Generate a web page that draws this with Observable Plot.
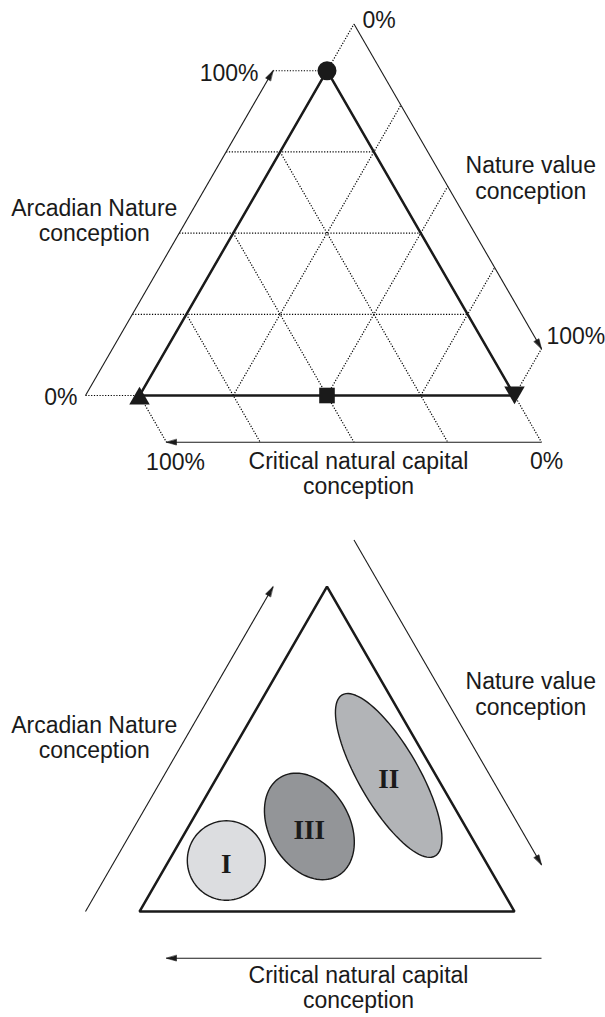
<!DOCTYPE html>
<html>
<head>
<meta charset="utf-8">
<script src="https://cdn.jsdelivr.net/npm/d3@7"></script>
<script src="https://cdn.jsdelivr.net/npm/@observablehq/plot@0.6"></script>
<style>
  html, body { margin: 0; padding: 0; background: #ffffff; }
  #top, #bottom { width: 605px; }
  svg { display: block; }
</style>
</head>
<body>
<div id="top"></div>
<div id="bottom"></div>
<script>
// ---------------- data ----------------
const axisKeys = ["A", "N", "C"];
const axisNames = ["Arcadian Nature\nconception", "Nature value\nconception", "Critical natural capital\nconception"];
const tickLabels = ["0%", "100%"];            // start / arrow end of every axis
const gridLevels = [0, 25, 50, 75, 100];      // percent

// marked compositions in the upper diagram (A = Arcadian, N = Nature value, C = Critical natural capital)
const pointLabels = ["Arcadian Nature", "Nature value", "Critical natural capital", "Nature value + Critical natural capital"];
const pointA = [100, 0, 0, 0];
const pointN = [0, 100, 0, 50];
const pointC = [0, 0, 100, 50];

// groups in the lower diagram (centre composition in %, extent in % of side)
const groups = ["I", "II", "III"];
const groupA = [15.7, 41.9, 26.2];
const groupN = [15.3, 45.5, 32.2];
const groupC = [69.0, 12.6, 41.6];
const groupMajor = [10.6, 24.8, 15.2];
const groupMinor = [10.4, 8.0, 10.7];
const groupTilt = [0, 30, 30];

// ---------------- styles ----------------
const groupColors = ["#dcdde0", "#b2b4b7", "#939598"];
const SANS = "Liberation Sans, Arial, Helvetica, sans-serif";
const SERIF = "Liberation Serif, Times New Roman, serif";
const FS = 23;
const INK = "#1a1a1a";
const shapeStyle = {
  "Arcadian Nature": {symbol: "circle", r: 9.5, rotate: 0, dy: 0},
  "Nature value": {symbol: "triangle", r: 7.6, rotate: 180, dy: -3},
  "Critical natural capital": {symbol: "triangle", r: 7.6, rotate: 0, dy: 3},
  "Nature value + Critical natural capital": {symbol: "square", r: 8.8, rotate: 0, dy: 0}
};

// ---------------- ternary geometry ----------------
const H = Math.sqrt(3) / 2;
const tx = (a, n, c) => (n + a / 2) / (a + n + c);
const ty = (a, n, c) => (a * H) / (a + n + c);
const OFF = 54 / 375;                       // axis offset, in side units
const vert = {A: [0.5, H], N: [1, 0], C: [0, 0]};
const offDir = {A: [-1, 0], N: [0.5, H], C: [0.5, -H]};
const axisEnds = {A: ["C", "A"], N: ["A", "N"], C: ["N", "C"]};

const axes = axisKeys.map((k, i) => {
  const [s, e] = axisEnds[k];
  const o = offDir[k];
  return {
    key: k, name: axisNames[i],
    x1: vert[s][0] + OFF * o[0], y1: vert[s][1] + OFF * o[1],
    x2: vert[e][0] + OFF * o[0], y2: vert[e][1] + OFF * o[1]
  };
});

function arrowHead(ax) {
  const L = 10 / 375, W = 2.8 / 375;
  const dx = ax.x2 - ax.x1, dy = ax.y2 - ax.y1, len = Math.hypot(dx, dy);
  const ux = dx / len, uy = dy / len;
  const bx = ax.x2 - ux * L, by = ax.y2 - uy * L;
  return [
    {id: ax.key, x: ax.x2, y: ax.y2},
    {id: ax.key, x: bx - uy * W, y: by + ux * W},
    {id: ax.key, x: bx + uy * W, y: by - ux * W}
  ];
}
const heads = axes.flatMap(arrowHead);

// grid lines (upper diagram only)
const gridLines = gridLevels.flatMap(v => {
  const p = v / 100;
  return [
    {fam: "A", x1: p / 2 - OFF, y1: p * H, x2: 1 - p / 2, y2: p * H},
    {fam: "N", x1: p, y1: 0, x2: (1 + p) / 2 + OFF * 0.5, y2: (1 - p) * H + OFF * H},
    {fam: "C", x1: (1 - p) / 2, y1: (1 - p) * H, x2: 1 - p + OFF * 0.5, y2: -OFF * H}
  ];
});

const triangle = ["C", "A", "N"].map(k => ({x: vert[k][0], y: vert[k][1]}));

const points = pointLabels.map((label, i) => ({label, a: pointA[i], n: pointN[i], c: pointC[i]}));

const groupData = groups.map((g, i) => ({
  group: g, a: groupA[i], n: groupN[i], c: groupC[i],
  major: groupMajor[i] / 100, minor: groupMinor[i] / 100, tilt: groupTilt[i]
}));
const ellipsePts = groupData.flatMap(d => {
  const cx = tx(d.a, d.n, d.c), cy = ty(d.a, d.n, d.c);
  const th = d.tilt * Math.PI / 180;
  const ma = [Math.sin(th), -Math.cos(th)], mi = [Math.cos(th), Math.sin(th)];
  return d3.range(0, 96).map(j => {
    const t = j / 96 * 2 * Math.PI;
    return {
      group: d.group,
      x: cx + d.major * Math.cos(t) * ma[0] + d.minor * Math.sin(t) * mi[0],
      y: cy + d.major * Math.cos(t) * ma[1] + d.minor * Math.sin(t) * mi[1]
    };
  });
});

// label layout offsets (pixels)
const tickLayout = {
  A: {start: [-8, 9, "end"], end: [-14.5, 10, "end"]},
  N: {start: [8.5, 3.6, "start"], end: [5, -5, "start"]},
  C: {start: [5, 27, "middle"], end: [9, 28, "middle"]}
};

function axisMarks(titleDy) {
  const marks = [
    Plot.link(axes, {x1: "x1", y1: "y1", x2: "x2", y2: "y2", stroke: INK, strokeWidth: 1.1}),
    Plot.line(heads, {x: "x", y: "y", z: "id", fill: INK, stroke: INK, strokeWidth: 0.6, curve: "linear-closed"})
  ];
  const titleLayout = {A: [-85, titleDy.A], N: [83, titleDy.N], C: [4.5, titleDy.C]};
  axes.forEach(ax => {
    const [dx, dy] = titleLayout[ax.key];
    marks.push(Plot.text([ax], {
      x: d => (d.x1 + d.x2) / 2, y: d => (d.y1 + d.y2) / 2, text: "name",
      dx, dy, textAnchor: "middle", lineAnchor: "bottom", lineHeight: 1.09,
      fontFamily: SANS, fontSize: FS, fill: INK
    }));
  });
  return marks;
}

function tickMarks() {
  const marks = [];
  axes.forEach(ax => {
    ["start", "end"].forEach((which, i) => {
      const [dx, dy, anchor] = tickLayout[ax.key][which];
      marks.push(Plot.text([ax], {
        x: which === "start" ? "x1" : "x2", y: which === "start" ? "y1" : "y2",
        text: () => tickLabels[i], dx, dy, textAnchor: anchor, lineAnchor: "bottom",
        fontFamily: SANS, fontSize: FS, fill: INK
      }));
    });
  });
  return marks;
}

const base = (height, marks) => Plot.plot({
  width: 605, height, margin: 0,
  x: {domain: [0, 1], range: [139, 514], axis: null},
  y: {domain: [0, 1], range: [395, 20], axis: null},
  color: {domain: groups, range: groupColors},
  style: {background: "#ffffff", color: INK, fontFamily: SANS, overflow: "visible"},
  marks
});

// ---------------- upper diagram ----------------
const topPlot = base(516, [
  Plot.link(gridLines, {x1: "x1", y1: "y1", x2: "x2", y2: "y2", stroke: "#000000", strokeWidth: 1.2, strokeDasharray: "1.2,1.6"}),
  Plot.line(triangle, {x: "x", y: "y", curve: "linear-closed", stroke: INK, strokeWidth: 2.5, strokeLinejoin: "miter"}),
  ...axisMarks({A: 7.5, N: 12.2, C: 52}),
  ...tickMarks(),
  ...points.map(p => {
    const s = shapeStyle[p.label];
    return Plot.dot([p], {
      x: d => tx(d.a, d.n, d.c), y: d => ty(d.a, d.n, d.c),
      symbol: s.symbol, r: s.r, rotate: s.rotate, dy: s.dy, fill: INK, stroke: "none"
    });
  })
]);
document.getElementById("top").appendChild(topPlot);

// ---------------- lower diagram ----------------
const bottomPlot = base(501, [
  Plot.line(triangle, {x: "x", y: "y", curve: "linear-closed", stroke: INK, strokeWidth: 2.5, strokeLinejoin: "miter"}),
  ...axisMarks({A: 8.5, N: 12.2, C: 50}),
  Plot.line(ellipsePts, {x: "x", y: "y", z: "group", fill: "group", stroke: INK, strokeWidth: 1.4, curve: "linear-closed"}),
  Plot.text(groupData, {
    x: d => tx(d.a, d.n, d.c), y: d => ty(d.a, d.n, d.c), text: "group",
    fontFamily: SERIF, fontWeight: "bold", fontSize: 27, lineAnchor: "middle", dy: 4, fill: INK
  })
]);
document.getElementById("bottom").appendChild(bottomPlot);
</script>
</body>
</html>
